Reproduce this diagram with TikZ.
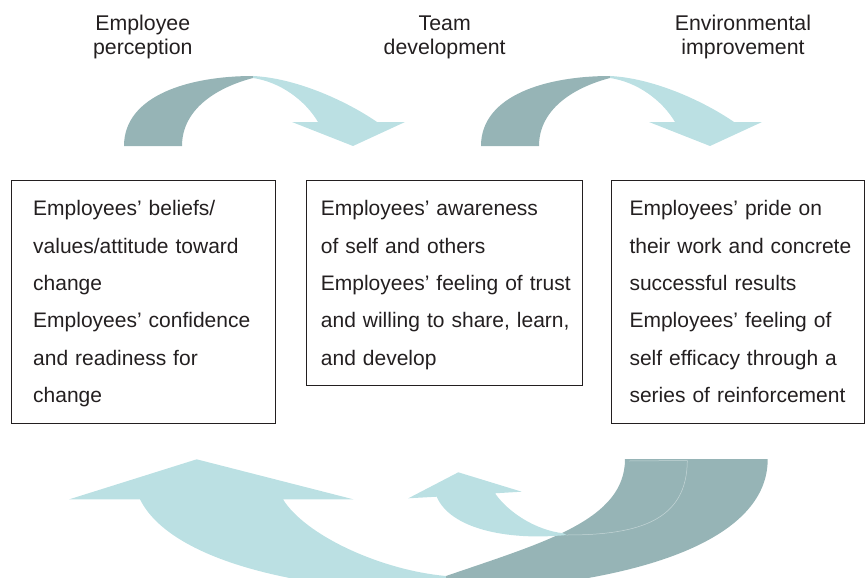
\documentclass[tikz,border=0pt]{standalone}
\usepackage{fontspec}
\setmainfont{Liberation Sans}
\definecolor{darkteal}{HTML}{96B4B6}
\definecolor{lightteal}{HTML}{BBE0E3}
\definecolor{txt}{HTML}{231F20}
\newcommand\drawTopArrow[1]{%
  \begin{scope}[xshift=#1]
    \fill[darkteal] (124,146) .. controls (124,95) and (190,76) .. (253,76)
      -- (253,78) .. controls (215,88) and (182,110) .. (182,146) -- cycle;
    \fill[lightteal] (253,76) .. controls (295,78) and (345,100) .. (377,122)
      -- (405,122) -- (353,146) -- (292,122) -- (318,122)
      .. controls (305,100) and (280,82) .. (253,78) -- cycle;
  \end{scope}}
\begin{document}
\begin{tikzpicture}[x=1pt,y=-1pt,
  box/.style={draw=txt, line width=1.4pt, anchor=north west, inner sep=0pt},
  bodytext/.style={anchor=base west, align=left, inner sep=0pt, text=txt,
    font=\fontsize{21.0}{37.4}\selectfont},
  headtext/.style={anchor=base, align=center, inner sep=0pt, text=txt,
    text width=200pt, font=\fontsize{21.3}{24}\selectfont},
  faint/.style={draw=white, draw opacity=0.45, line width=0.5pt}]
\useasboundingbox (0,0) rectangle (865,578);
\clip (0,0) rectangle (865,578);

% headers
\node[headtext] (h1) at (142.8,31) {Employee\\perception};
\node[headtext] (h2) at (444.7,31) {Team\\development};
\node[headtext] (h3) at (743,31) {Environmental\\improvement};

% top arrows
\drawTopArrow{0pt}
\drawTopArrow{357pt}

% boxes
\node[box, minimum width=264pt, minimum height=243pt] (b1) at (11,180) {};
\node[box, minimum width=275.5pt, minimum height=204.5pt] (b2) at (306,180) {};
\node[box, minimum width=252.5pt, minimum height=243pt] (b3) at (611,180) {};

\node[bodytext, text width=250pt] (t1) at (33,215.6) {Employees’ beliefs/\\values/attitude toward\\change\\Employees’ confidence\\and readiness for\\change};
\node[bodytext, text width=262pt] (t2) at (320.7,215.6) {Employees’ awareness\\of self and others\\Employees’ feeling of trust\\and willing to share, learn,\\and develop};
\node[bodytext, text width=232pt] (t3) at (629.3,215.6) {Employees’ pride on\\their work and concrete\\successful results\\Employees’ feeling of\\self efficacy through a\\series of reinforcement};

% bottom big arrow
\fill[lightteal] (446,576) .. controls (380,570) and (305,535) .. (283,499.3)
  -- (353.3,499.3) -- (196.7,459.3) -- (69.3,499.3) -- (140,499.3)
  .. controls (170,560) and (300,592) .. (447,592) -- cycle;
\fill[darkteal] (625,459) -- (767.7,459) .. controls (768,540) and (640,585) .. (447,592)
  -- (446,576) .. controls (545,542) and (625,520) .. (625,459) -- cycle;

% bottom small arrow
\fill[darkteal] (629.3,459) -- (687.3,459) .. controls (687,520) and (640,535) .. (566.7,535)
  -- (563.3,533.3) .. controls (600,522) and (630,505) .. (629.3,459) -- cycle;
\draw[faint] (629.3,461) -- (687.3,460.5) .. controls (687,520) and (640,535) .. (566.7,535);
\fill[lightteal] (566.7,535) .. controls (505,541) and (450,528) .. (436.7,496.7)
  -- (408.3,498.3) -- (458.3,472.3) -- (521.7,491.7) -- (495,493.3)
  .. controls (508,512) and (535,530) .. (563.3,533.3) -- cycle;
\end{tikzpicture}
\end{document}
